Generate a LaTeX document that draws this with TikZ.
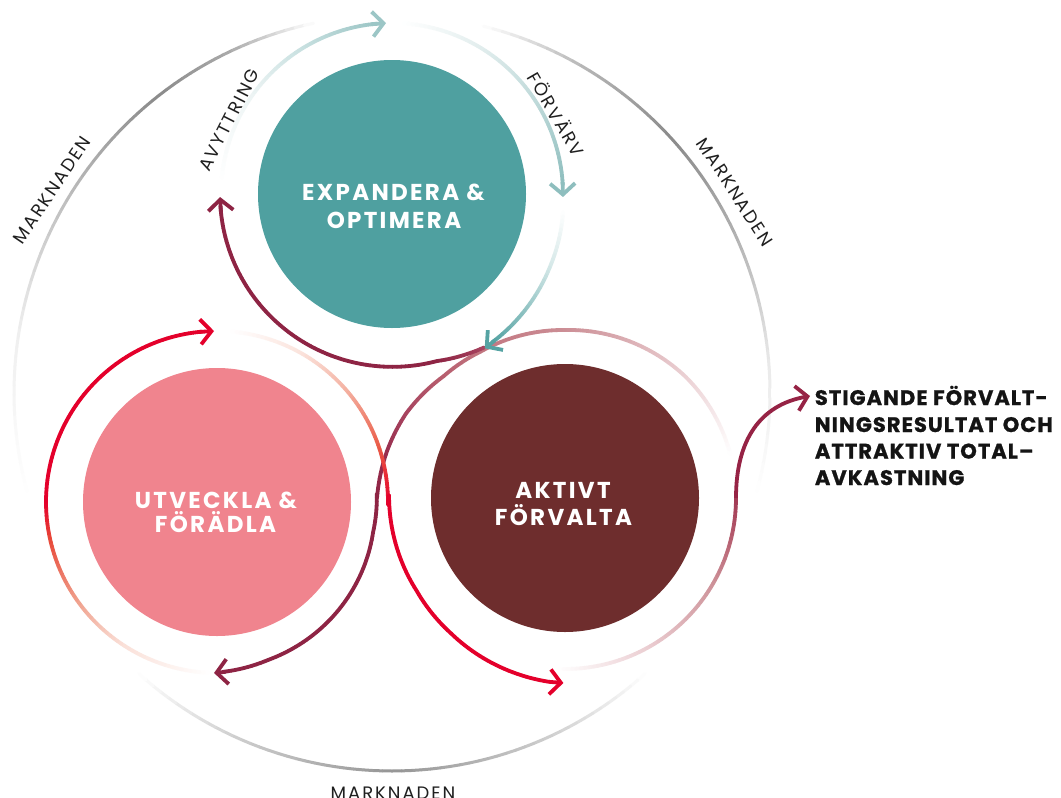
\documentclass[tikz,border=0pt]{standalone}
\usepackage{fontspec}
\setmainfont{Poppins}
\newfontfamily\circfont[LetterSpace=10]{Poppins}
\newfontfamily\labfont[LetterSpace=11]{Poppins}
\newfontfamily\outfont[LetterSpace=5,FakeBold=1]{Poppins}
\usetikzlibrary{arrows.meta}
% fills
\definecolor{cteal}{HTML}{4FA0A0}
\definecolor{cpink}{HTML}{F0848E}
\definecolor{cdark}{HTML}{6E2D2D}
\definecolor{cred}{HTML}{E4002B}
\definecolor{crim}{HTML}{8E2444}
\definecolor{crimS}{HTML}{962345}
% outer greys
\definecolor{og1}{HTML}{EEEEEE}
\definecolor{og2}{HTML}{B4B4B4}
\definecolor{og3}{HTML}{8A8A8A}
\definecolor{og4}{HTML}{ABABAB}
\definecolor{og5}{HTML}{B8B8B8}
\definecolor{og6}{HTML}{B0B0B0}
\definecolor{og7}{HTML}{E8E8E8}
\definecolor{og8}{HTML}{D0D0D0}
\definecolor{og9}{HTML}{959595}
% teal ring
\definecolor{ta1}{HTML}{EEF5F5}
\definecolor{ta2}{HTML}{C6DFDF}
\definecolor{ta3}{HTML}{9CC6C6}
\definecolor{tb1}{HTML}{E4EFEF}
\definecolor{tb2}{HTML}{BCD8D8}
\definecolor{tb3}{HTML}{8EBEBE}
\definecolor{tc1}{HTML}{D5E8E8}
\definecolor{tc2}{HTML}{55A3A3}
% dark ring
\definecolor{dk1}{HTML}{ECD2D5}
\definecolor{dk2}{HTML}{CC8F96}
\definecolor{dk3}{HTML}{C27680}
\definecolor{dk4}{HTML}{B85F6F}
\definecolor{dk5}{HTML}{A84560}
\definecolor{dk6}{HTML}{9A3050}
\definecolor{dr1}{HTML}{EBCDD1}
\definecolor{dr2}{HTML}{CE939A}
\definecolor{dr3}{HTML}{B45A6C}
\definecolor{dr4}{HTML}{A23A55}
% red ring
\definecolor{rd1}{HTML}{FAE0D8}
\definecolor{rd2}{HTML}{F0A08C}
\definecolor{rd3}{HTML}{E84838}
\definecolor{rd4}{HTML}{FBE3DC}
\definecolor{rd5}{HTML}{F4B0A0}
\definecolor{rd6}{HTML}{EA5A46}
% gradient arc: cx cy phi1 phi2 r1 r2 col1 col2
\newcommand\garc[8]{%
  \pgfmathtruncatemacro\gn{max(2,ceil(abs(#4-#3)/1.5))}%
  \foreach \i in {1,...,\gn}{%
    \pgfmathsetmacro\pa{#3+(#4-#3)*(\i-1)/\gn}%
    \pgfmathsetmacro\pb{#3+(#4-#3)*\i/\gn}%
    \pgfmathsetmacro\ra{#5+(#6-#5)*(\i-1)/\gn}%
    \pgfmathsetmacro\rb{#5+(#6-#5)*\i/\gn}%
    \pgfmathtruncatemacro\pc{round(100*(\i-0.5)/\gn)}%
    \draw[line cap=round, draw=#8!\pc!#7] ({#1+\ra*cos(\pa)},{#2+\ra*sin(\pa)}) -- ({#1+\rb*cos(\pb)},{#2+\rb*sin(\pb)});
  }%
}
\tikzset{
  barb/.style={-{Straight Barb[length=11pt,width=25pt]}},
  disc/.style={circle, minimum size=268pt, inner sep=0pt, draw=none},
  maintext/.style={font=\circfont\bfseries\fontsize{23}{26}\selectfont, text=white, inner sep=0pt, anchor=base},
  lab/.style={font=\labfont\fontsize{18}{21}\selectfont, text=black!88, inner sep=0pt},
  outtext/.style={font=\outfont\bfseries\fontsize{21}{24}\selectfont, text=black!92, inner sep=0pt, anchor=base west}
}
\begin{document}
\begin{tikzpicture}[x=1pt,y=-1pt,line width=3.8pt]
\useasboundingbox (0,0) rectangle (1061,798);
\fill[white] (0,0) rectangle (1061,798);
% ---------- outer market ring ----------
\begin{scope}[line width=3pt]
\garc{392}{393}{165}{190}{378}{378}{white}{og1}
\garc{392}{393}{190}{215}{378}{378}{og1}{og2}
\garc{392}{393}{215}{232}{378}{378}{og2}{og3}
\garc{392}{393}{232}{245}{378}{378}{og3}{og4}
\garc{392}{393}{245}{258}{378}{378}{og4}{white}
\garc{392}{393}{284}{300}{378}{378}{white}{og5}
\garc{392}{393}{300}{318}{378}{378}{og5}{og3}
\garc{392}{393}{318}{335}{378}{378}{og3}{og6}
\garc{392}{393}{335}{355}{378}{378}{og6}{og7}
\garc{392}{393}{355}{375}{378}{378}{og7}{white}
\garc{392}{393}{48}{65}{378}{378}{white}{og8}
\garc{392}{393}{65}{90}{378}{378}{og8}{og9}
\garc{392}{393}{90}{115}{378}{378}{og9}{og8}
\garc{392}{393}{115}{132}{378}{378}{og8}{white}
\end{scope}
% ---------- discs ----------
\node[disc, fill=cteal] (expand) at (392,194) {};
\node[disc, fill=cpink] (utveckla) at (217,502) {};
\node[disc, fill=cdark] (aktivt) at (565,498) {};
% ---------- teal ring ----------
\garc{392}{194}{184}{215}{171}{171}{white}{ta1}
\garc{392}{194}{215}{240}{171}{171}{ta1}{ta2}
\garc{392}{194}{240}{265}{171}{171}{ta2}{ta3}
\garc{392}{194}{274}{300}{171}{171}{white}{tb1}
\garc{392}{194}{300}{330}{171}{171}{tb1}{tb2}
\garc{392}{194}{330}{357}{171}{171}{tb2}{tb3}
\garc{392}{194}{6}{25}{172}{174}{white}{tc1}
\garc{392}{194}{25}{56}{174}{179}{tc1}{tc2}
% ---------- dark ring top -> pink right (crimson) ----------
\garc{565}{498}{345}{315}{171}{171}{white}{dk1}
\garc{565}{498}{315}{270}{171}{168}{dk1}{dk2}
\garc{565}{498}{270}{240}{168}{169}{dk2}{dk3}
\garc{565}{498}{240}{225}{169}{172}{dk3}{dk4}
\garc{565}{498}{225}{208}{172}{180}{dk4}{dk5}
\garc{565}{498}{208}{195}{180}{184}{dk5}{dk6}
\garc{565}{498}{195}{180}{184}{188}{dk6}{crim}
\garc{217}{502}{-3}{11}{160}{159}{crim}{crim}
\garc{217}{502}{11}{45}{159}{163}{crim}{crim}
\garc{217}{502}{45}{72}{163}{166}{crim}{crim}
\garc{217}{502}{72}{88}{166}{170}{crim}{crim}
% ---------- avyttring (crimson around teal) ----------
\garc{392}{194}{59}{75}{179}{173}{dk5}{crim}
\garc{392}{194}{75}{176}{173}{172}{crim}{crim}
% ---------- red paths ----------
\garc{217}{502}{93}{124}{171}{171}{white}{rd1}
\garc{217}{502}{124}{145}{171}{171}{rd1}{rd2}
\garc{217}{502}{145}{168}{171}{171}{rd2}{rd3}
\garc{217}{502}{168}{180}{171}{171}{rd3}{cred}
\garc{217}{502}{180}{265}{171}{171}{cred}{cred}
\garc{217}{502}{275}{300}{171}{171}{white}{rd4}
\garc{217}{502}{300}{320}{171}{171}{rd4}{rd5}
\garc{217}{502}{320}{342}{171}{171}{rd5}{rd6}
\garc{217}{502}{342}{361}{171}{171}{rd6}{cred}
\garc{565}{498}{181}{168}{176}{175.5}{cred}{cred}
\garc{565}{498}{168}{148}{175.5}{175}{cred}{cred}
\garc{565}{498}{148}{130}{175}{177}{cred}{cred}
\garc{565}{498}{130}{111}{177}{181}{cred}{cred}
\garc{565}{498}{111}{95}{181}{184.5}{cred}{cred}
% ---------- dark ring right -> result ----------
\garc{565}{498}{92}{60}{171}{171}{white}{dr1}
\garc{565}{498}{60}{30}{171}{171}{dr1}{dr2}
\garc{565}{498}{30}{12}{171}{171}{dr2}{dr3}
\garc{565}{498}{12}{0}{171}{171}{dr3}{dr4}
\coordinate (sStart) at (736,498);
\coordinate (sEnd) at (810,396);
\draw[barb, draw=crimS] (sStart) .. controls (736,440) and (760,405) .. (sEnd);
% ---------- arrow heads ----------
\draw[barb, draw=ta3] ({392+171*cos(263)},{194+171*sin(263)}) -- ({392+171*cos(268)},{194+171*sin(268)});
\draw[barb, draw=tb3] ({392+171*cos(356)},{194+171*sin(356)}) -- ({392+171*cos(361)},{194+171*sin(361)});
\draw[barb, draw=tc2] ({392+179*cos(55)},{194+179*sin(55)}) -- ({392+180*cos(59)},{194+180*sin(59)});
\draw[barb, draw=crim] ({392+172*cos(174)},{194+172*sin(174)}) -- ({392+172*cos(179)},{194+172*sin(179)});
\draw[barb, draw=crim] ({217+170*cos(87)},{502+170*sin(87)}) -- ({217+171*cos(91)},{502+171*sin(91)});
\draw[barb, draw=cred] ({217+171*cos(264)},{502+171*sin(264)}) -- ({217+171*cos(269)},{502+171*sin(269)});
\draw[barb, draw=cred] ({565+184.5*cos(95)},{498+184.5*sin(95)}) -- ({565+185*cos(90.5)},{498+185*sin(90.5)});
% ---------- texts ----------
\node[maintext] (tE1) at (393.5,200) {EXPANDERA \&};
\node[maintext] (tE2) at (394,228) {OPTIMERA};
\node[maintext] (tU1) at (216,508) {UTVECKLA \&};
\node[maintext] (tU2) at (215.5,532) {FÖRÄDLA};
\node[maintext] (tA1) at (563,498) {AKTIVT};
\node[maintext] (tA2) at (563.5,525) {FÖRVALTA};
\node[lab, rotate=56] (mL) at (52,190) {MARKNADEN};
\node[lab, rotate=-57] (mR) at (735,192) {MARKNADEN};
\node[lab, anchor=base] (mB) at (393,799) {MARKNADEN};
\node[lab, rotate=63] (avy) at (229,120) {AVYTTRING};
\node[lab, rotate=-60] (forv) at (557,114) {FÖRVÄRV};
\node[outtext] (r1) at (813,405) {STIGANDE FÖRVALT-};
\node[outtext] (r2) at (813,432) {NINGSRESULTAT OCH};
\node[outtext] (r3) at (813,458.5) {ATTRAKTIV TOTAL–};
\node[outtext] (r4) at (813,485) {AVKASTNING};
\end{tikzpicture}
\end{document}
